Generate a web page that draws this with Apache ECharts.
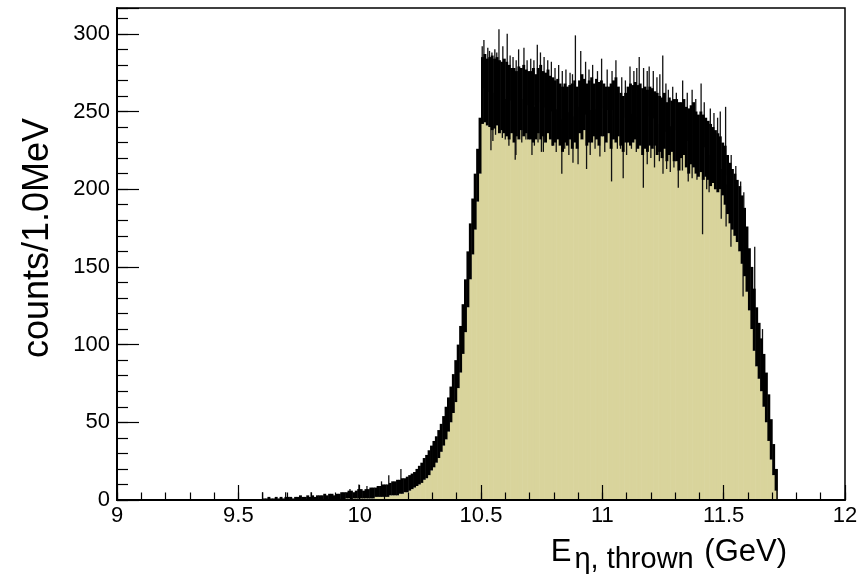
<!DOCTYPE html>
<html><head><meta charset="utf-8">
<script src="https://cdn.jsdelivr.net/npm/echarts@6/dist/echarts.min.js"></script>
<style>html,body{margin:0;padding:0;background:#fff}#c{width:867px;height:583px}</style>
</head><body><div id="c"></div>
<script>
// Histogram of E_eta,thrown (1 MeV bins), summarised in 10 MeV groups:
// bodyLow / bodyHigh = typical lowest / highest bin content in each group,
// plus single-bin spikes that stick out of that band (all read from the picture).
const binStartGeV = 9.60;
const binWidthGeV = 0.01;
const bodyLow = [
  0,0,0,0,0,0,0,0,0,0,
  0,0,0,0,0,0,0,0,0,0,
  0,0,0,0,0,0,0,0,0,0,
  0,0,0,0,1,1,0,1,1,1,
  1,1,1,1,1,1,2,2,2,2,
  2,2,3,3,3,3,4,4,5,5,
  6,7,8,9,10,11,13,14,16,19,
  21,24,27,31,35,39,44,50,56,63,
  72,82,94,108,124,142,158,174,192,210,
  246,243,241,240,238,239,241,236,238,236,
  234,232,236,230,234,232,238,234,236,232,
  232,230,232,236,232,234,230,236,232,228,
  230,232,228,224,230,228,232,226,230,226,
  236,232,238,228,230,230,234,232,228,234,
  234,230,236,226,232,230,234,228,224,230,
  230,228,230,232,226,228,222,226,224,228,
  226,228,222,224,220,226,218,222,224,218,
  218,212,220,222,214,210,216,214,210,208,
  211,206,208,206,202,204,200,198,200,196,
  190,184,178,174,170,166,160,152,144,134,
  122,110,96,86,78,70,60,50,38,26,
  16,6
];
const bodyHigh = [
  1,1,2,1,1,2,1,2,1,2,
  2,2,1,2,2,3,2,2,3,2,
  3,2,3,3,3,4,3,4,4,3,
  4,4,5,5,5,6,6,5,6,7,
  7,6,7,7,8,8,8,9,9,10,
  10,10,11,12,12,13,13,14,14,15,
  16,17,18,20,22,24,27,29,32,35,
  38,41,45,49,54,60,66,73,81,90,
  100,112,126,142,160,178,194,210,226,242,
  285,287,284,285,286,284,285,283,282,284,
  282,280,278,278,276,279,278,280,277,276,
  276,278,274,278,280,276,275,277,273,272,
  270,271,268,266,268,266,267,268,270,266,
  270,274,271,268,270,272,268,271,269,270,
  268,266,266,268,270,272,266,262,260,262,
  266,268,267,269,267,268,265,266,264,266,
  265,263,262,260,259,262,256,259,257,258,
  258,256,256,258,253,252,254,256,250,248,
  250,248,246,244,242,240,238,236,234,230,
  228,222,217,213,210,206,202,196,188,176,
  162,150,136,124,114,104,94,82,68,52,
  36,20
];
// single-bin spikes: energy (GeV) and bin content
const spikeGeV = [
  9.600, 9.695, 9.800, 9.960, 9.997, 10.030, 10.090, 10.120, 10.170,
  10.505, 10.512, 10.528, 10.545, 10.557, 10.574, 10.590, 10.608, 10.620, 10.655,
  10.677, 10.690, 10.705, 10.732, 10.745, 10.760, 10.775, 10.790, 10.820, 10.850,
  10.867, 10.889, 10.911, 10.931, 10.960, 10.997, 11.020, 11.056, 11.080, 11.114,
  11.130, 11.152, 11.170, 11.193, 11.210, 11.249, 11.272, 11.290, 11.331, 11.370,
  11.407, 11.445, 11.460, 11.486, 11.508, 11.531, 11.583, 11.628, 11.660,
  10.535, 10.565, 10.632, 10.645, 10.718, 10.805, 10.835, 10.877, 10.945, 10.980,
  11.040, 11.095, 11.142, 11.185, 11.225, 11.237, 11.262, 11.305, 11.350, 11.385,
  11.420, 11.475, 11.550, 11.570,
  10.541, 10.549, 10.588, 10.641, 10.644, 10.710, 10.749, 10.757, 10.795, 10.833,
  10.879, 10.900, 10.935, 10.970, 11.038, 11.062, 11.086, 11.120, 11.169, 11.200,
  11.235, 11.265, 11.295, 11.313, 11.354, 11.390, 11.413, 11.440, 11.490, 11.530,
  11.580, 11.617,
  10.560, 10.600, 10.615, 10.668, 10.685, 10.720, 10.735, 10.810, 10.845, 10.862,
  10.950, 10.990, 11.010, 11.075, 11.100, 11.140, 11.185, 11.215, 11.250, 11.280,
  11.330, 11.370, 11.430, 11.465, 11.510
];
const spikeCounts = [
  5, 5, 5, 7, 10, 9, 12, 16, 20,
  292, 296, 291, 288, 290, 303, 292, 300, 286, 290,
  291, 283, 284, 293, 288, 285, 283, 282, 280, 277,
  275, 299, 289, 282, 280, 284, 277, 283, 272, 279,
  276, 285, 278, 279, 276, 286, 264, 266, 270, 264,
  268, 252, 249, 250, 253, 222, 198, 163, 110,
  289, 288, 285, 283, 283, 278, 276, 274, 277, 276,
  276, 270, 278, 276, 272, 274, 268, 262, 262, 258,
  256, 246, 215, 205,
  225, 231, 233, 219, 222, 222, 224, 224, 228, 210,
  217, 216, 213, 226, 205, 226, 207, 226, 201, 220,
  218, 213, 214, 201, 205, 206, 171, 198, 181, 163,
  131, 121,
  235, 232, 228, 230, 232, 228, 230, 224, 226, 222,
  222, 221, 224, 226, 222, 224, 216, 214, 210, 211,
  212, 207, 200, 200, 176
];
const xTickLabels = ['9','9.5','10','10.5','11','11.5','12'];
const yTickLabels = ['0','50','100','150','200','250','300'];

const FILL = '#d9d49c';
const FONT = '"Liberation Sans", Arial, Helvetica, sans-serif';

const groups = bodyLow.map((lo, i) => [+(binStartGeV + i * binWidthGeV).toFixed(2), lo, bodyHigh[i], i]);
const spikes = spikeGeV.map((e, i) => [e, spikeCounts[i]]);
const lastIdx = groups.length - 1;

function fillItem(params, api) {
  const x0 = api.value(0), lo = api.value(1);
  const a = api.coord([x0, 0]), b = api.coord([x0 + binWidthGeV, lo]);
  return {type: 'rect', shape: {x: a[0], y: b[1], width: b[0] - a[0] + 0.6, height: a[1] - b[1]},
          style: {fill: FILL}};
}
// black band: the histogram outline joins neighbouring bins with vertical segments,
// so each group's band reaches the nearest edge of its neighbours' bands
function bandItem(params, api) {
  const x0 = api.value(0), i = api.value(3);
  let lo = bodyLow[i], hi = bodyHigh[i];
  if (i > 0) { lo = Math.min(lo, bodyHigh[i - 1]); hi = Math.max(hi, bodyLow[i - 1]); }
  if (i < lastIdx) { lo = Math.min(lo, bodyHigh[i + 1]); hi = Math.max(hi, bodyLow[i + 1]); }
  const a = api.coord([x0, lo]), b = api.coord([x0 + binWidthGeV, hi]);
  const children = [{type: 'rect',
    shape: {x: a[0], y: b[1], width: b[0] - a[0] + 0.5, height: Math.max(a[1] - b[1], 1.6)},
    style: {fill: '#000'}}];
  if (i === lastIdx) {
    const z = api.coord([x0 + binWidthGeV, 0]);
    children.push({type: 'line', shape: {x1: b[0], y1: b[1], x2: z[0], y2: z[1]},
                   style: {stroke: '#000', lineWidth: 1.5}});
  }
  return {type: 'group', children};
}
function spikeItem(params, api) {
  const e = api.value(0), v = api.value(1);
  const gi = Math.min(lastIdx, Math.max(0, Math.floor((e - binStartGeV) / binWidthGeV + 1e-9)));
  const mid = (bodyLow[gi] + bodyHigh[gi]) / 2;
  const p = api.coord([e, v]), q = api.coord([e, mid]);
  return {type: 'line', shape: {x1: p[0], y1: p[1], x2: q[0], y2: q[1]},
          style: {stroke: '#111', lineWidth: 1.3}};
}

const labelStyle = {color: '#000', fontFamily: FONT, fontSize: 22};
const chart = echarts.init(document.getElementById('c'), null, {renderer: 'canvas'});
chart.setOption({
  animation: false,
  backgroundColor: '#fff',
  grid: {left: 117, right: 22, top: 8, bottom: 83, show: true, borderColor: '#000', borderWidth: 1.5,
         backgroundColor: 'transparent'},
  xAxis: [
    {type: 'value', min: 9, max: 12, interval: 0.5, position: 'bottom', z: 10,
     axisLine: {show: true, lineStyle: {color: '#000', width: 2}},
     axisTick: {show: true, inside: true, length: 15, lineStyle: {color: '#000', width: 1.2}},
     axisLabel: Object.assign({margin: 5, formatter: v => {
       const s = String(+v.toFixed(1)); return xTickLabels.includes(s) ? s : ''; }}, labelStyle),
     splitLine: {show: false}},
    {type: 'value', min: 9, max: 12, interval: 0.1, position: 'bottom', z: 10,
     axisLine: {show: false},
     axisTick: {show: true, inside: true, length: 7.5, lineStyle: {color: '#000', width: 1.2}},
     axisLabel: {show: false}, splitLine: {show: false}}
  ],
  yAxis: [
    {type: 'value', min: 0, max: 316.6, interval: 50, position: 'left', z: 10,
     axisLine: {show: true, lineStyle: {color: '#000', width: 2}},
     axisTick: {show: true, inside: true, length: 22, lineStyle: {color: '#000', width: 1.2}},
     axisLabel: Object.assign({margin: 7, formatter: v => {
       const s = String(Math.round(v)); return (yTickLabels.includes(s) && Math.abs(v - Math.round(v)) < 1e-6) ? s : ''; }}, labelStyle),
     splitLine: {show: false}},
    {type: 'value', min: 0, max: 316.6, interval: 10, position: 'left', z: 10,
     axisLine: {show: false},
     axisTick: {show: true, inside: true, length: 11, lineStyle: {color: '#000', width: 1.2}},
     axisLabel: {show: false}, splitLine: {show: false}}
  ],
  series: [
    {type: 'custom', renderItem: fillItem, data: groups, z: 2, silent: true},
    {type: 'custom', renderItem: spikeItem, data: spikes, z: 3, silent: true},
    {type: 'custom', renderItem: bandItem, data: groups, z: 4, silent: true}
  ],
  graphic: [
    {type: 'text', x: 38, y: 238, rotation: Math.PI / 2,
     style: {text: 'counts/1.0MeV', fill: '#000', font: '36px ' + FONT, align: 'center', verticalAlign: 'middle'}},
    {type: 'text', x: 787, y: 552,
     style: {text: '{a|E}{b|η, thrown}{a| (GeV)}', fill: '#000', align: 'right', verticalAlign: 'middle',
       rich: {a: {fontSize: 31, lineHeight: 44, fontFamily: FONT, fill: '#000'},
              b: {fontSize: 29, lineHeight: 29, verticalAlign: 'bottom', padding: [0, 2, 0, 3],
                  fontFamily: FONT, fill: '#000'}}}}
  ]
});
</script></body></html>
